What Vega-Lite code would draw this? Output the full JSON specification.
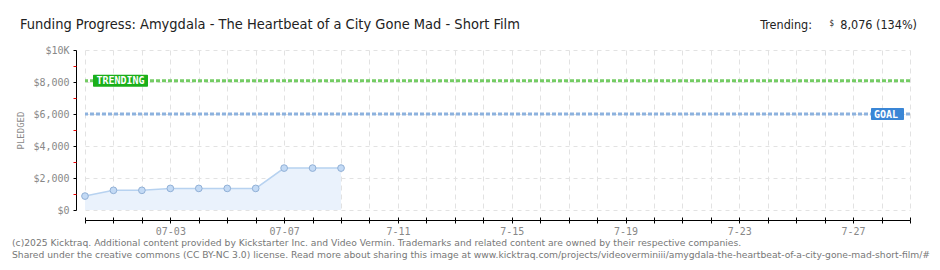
{
  "$schema": "https://vega.github.io/schema/vega-lite/v6.json",
  "width": 825,
  "height": 160,
  "autosize": {"type": "none"},
  "padding": {"left": 85, "top": 50, "right": 30, "bottom": 60},
  "background": "white",
  "data": {"values": [{}]},
  "config": {"view": {"stroke": null}},
  "datasets": {
    "pledges": [
      {"date": "2025-06-30", "pledged": 870},
      {"date": "2025-07-01", "pledged": 1230},
      {"date": "2025-07-02", "pledged": 1230},
      {"date": "2025-07-03", "pledged": 1350},
      {"date": "2025-07-04", "pledged": 1350},
      {"date": "2025-07-05", "pledged": 1350},
      {"date": "2025-07-06", "pledged": 1350},
      {"date": "2025-07-07", "pledged": 2620},
      {"date": "2025-07-08", "pledged": 2620},
      {"date": "2025-07-09", "pledged": 2620}
    ]
  },
  "layer": [
    {
      "data": {"name": "pledges"},
      "mark": {"type": "area", "color": "#eaf2fc", "opacity": 1, "line": {"color": "#b7d2f0", "strokeWidth": 1.5}},
      "encoding": {
        "x": {
          "field": "date", "type": "temporal",
          "scale": {"type": "utc", "domain": [{"year": 2025, "month": 6, "date": 30, "utc": true}, {"year": 2025, "month": 7, "date": 29, "utc": true}]},
          "axis": {
            "orient": "bottom", "offset": 10, "title": null,
            "tickCount": {"interval": "day", "step": 1},
            "labelExpr": "utcdate(datum.value) % 4 == 3 ? (utcdate(datum.value) < 10 ? utcFormat(datum.value, '%m-%d') : utcFormat(datum.value, '%-m-%d')) : ''",
            "labelOverlap": false, "labelFlush": false,
            "labelFont": "DejaVu Sans Mono", "labelFontSize": 10, "labelColor": "#888", "labelPadding": 3,
            "domainColor": "#000", "tickColor": "#000", "tickSize": 3,
            "grid": true, "gridColor": "#e2e2e2", "gridDash": [5, 4]
          }
        },
        "y": {
          "field": "pledged", "type": "quantitative",
          "scale": {"domain": [0, 10000], "nice": false},
          "axis": {
            "orient": "left", "offset": 9,
            "values": [0, 2000, 4000, 6000, 8000, 10000],
            "labelExpr": "datum.value >= 10000 ? '$10K' : '$' + format(datum.value, ',')",
            "title": "PLEDGED", "titleFont": "DejaVu Sans Mono", "titleFontSize": 9, "titleFontWeight": "normal", "titleColor": "#888", "titlePadding": 7,
            "labelFont": "DejaVu Sans Mono", "labelFontSize": 10, "labelColor": "#888", "labelPadding": 4,
            "domainColor": "#000", "tickColor": "#000", "tickSize": 3,
            "grid": true, "gridColor": "#e2e2e2", "gridDash": [4, 4]
          }
        }
      }
    },
    {
      "data": {"name": "pledges"},
      "mark": {"type": "point", "filled": true, "size": 45, "color": "#c3daf5", "stroke": "#91b0d6", "strokeWidth": 1, "opacity": 1},
      "encoding": {
        "x": {"field": "date", "type": "temporal", "axis": {"orient": "bottom", "offset": 10, "title": null, "tickCount": {"interval": "day", "step": 1}, "tickSize": -3, "tickColor": "#000", "labels": false, "domain": false, "grid": false}},
        "y": {"field": "pledged", "type": "quantitative", "axis": null}
      }
    },
    {
      "mark": {"type": "rule", "color": "#8db2de", "strokeWidth": 3, "strokeDash": [4, 2]},
      "encoding": {
        "y": {"datum": 6000, "type": "quantitative", "axis": {"orient": "left", "offset": 9, "values": [1000, 3000, 5000, 7000, 9000], "tickColor": "#e00", "tickSize": 3, "labels": false, "domain": false, "grid": false, "title": null}}
      }
    },
    {
      "mark": {"type": "rule", "color": "#74cc64", "strokeWidth": 3, "strokeDash": [4, 2]},
      "encoding": {"y": {"datum": 8076, "type": "quantitative", "axis": null}}
    },
    {
      "mark": {"type": "rect", "color": "#1aaf1a", "width": 55, "height": 12, "xOffset": 35.5, "cornerRadius": 1},
      "encoding": {
        "x": {"datum": {"year": 2025, "month": 6, "date": 30, "utc": true}, "type": "temporal", "axis": null},
        "y": {"datum": 8076, "type": "quantitative", "axis": null}
      }
    },
    {
      "mark": {"type": "text", "text": "TRENDING", "color": "white", "font": "DejaVu Sans Mono", "fontSize": 10, "fontWeight": "bold", "align": "center", "baseline": "middle", "xOffset": 35.5, "dy": 0.5},
      "encoding": {
        "x": {"datum": {"year": 2025, "month": 6, "date": 30, "utc": true}, "type": "temporal", "axis": null},
        "y": {"datum": 8076, "type": "quantitative", "axis": null}
      }
    },
    {
      "mark": {"type": "rect", "color": "#3a86d6", "width": 33, "height": 12, "xOffset": -22.5, "cornerRadius": 1},
      "encoding": {
        "x": {"datum": {"year": 2025, "month": 7, "date": 29, "utc": true}, "type": "temporal", "axis": null},
        "y": {"datum": 6000, "type": "quantitative", "axis": null}
      }
    },
    {
      "mark": {"type": "text", "text": "GOAL", "color": "white", "font": "DejaVu Sans Mono", "fontSize": 10, "fontWeight": "bold", "align": "left", "baseline": "middle", "xOffset": -36, "dy": 0.5},
      "encoding": {
        "x": {"datum": {"year": 2025, "month": 7, "date": 29, "utc": true}, "type": "temporal", "axis": null},
        "y": {"datum": 6000, "type": "quantitative", "axis": null}
      }
    },
    {
      "mark": {"type": "text", "text": "Funding Progress: Amygdala - The Heartbeat of a City Gone Mad - Short Film", "color": "#222", "font": "DejaVu Sans Condensed", "fontSize": 14.5, "align": "left", "baseline": "alphabetic", "dx": -65, "dy": -21},
      "encoding": {
        "x": {"datum": {"year": 2025, "month": 6, "date": 30, "utc": true}, "type": "temporal", "axis": null},
        "y": {"datum": 10000, "type": "quantitative", "axis": null}
      }
    },
    {
      "mark": {"type": "text", "text": "8,076 (134%)", "color": "#222", "font": "DejaVu Sans Condensed", "fontSize": 12.5, "align": "right", "baseline": "alphabetic", "dx": 7, "dy": -21},
      "encoding": {
        "x": {"datum": {"year": 2025, "month": 7, "date": 29, "utc": true}, "type": "temporal", "axis": null},
        "y": {"datum": 10000, "type": "quantitative", "axis": null}
      }
    },
    {
      "mark": {"type": "text", "text": "$", "color": "#222", "font": "DejaVu Sans Condensed", "fontSize": 8, "align": "right", "baseline": "alphabetic", "dx": -76, "dy": -24},
      "encoding": {
        "x": {"datum": {"year": 2025, "month": 7, "date": 29, "utc": true}, "type": "temporal", "axis": null},
        "y": {"datum": 10000, "type": "quantitative", "axis": null}
      }
    },
    {
      "mark": {"type": "text", "text": "Trending:", "color": "#222", "font": "DejaVu Sans Condensed", "fontSize": 12.5, "align": "right", "baseline": "alphabetic", "dx": -98, "dy": -21},
      "encoding": {
        "x": {"datum": {"year": 2025, "month": 7, "date": 29, "utc": true}, "type": "temporal", "axis": null},
        "y": {"datum": 10000, "type": "quantitative", "axis": null}
      }
    },
    {
      "mark": {
        "type": "text",
        "text": [
          "(c)2025 Kicktraq. Additional content provided by Kickstarter Inc. and Video Vermin. Trademarks and related content are owned by their respective companies.",
          "Shared under the creative commons (CC BY-NC 3.0) license. Read more about sharing this image at www.kicktraq.com/projects/videoverminiii/amygdala-the-heartbeat-of-a-city-gone-mad-short-film/#"
        ],
        "color": "#777", "font": "DejaVu Sans", "fontSize": 9.2, "lineHeight": 12,
        "align": "left", "baseline": "alphabetic", "dx": -73, "dy": 36
      },
      "encoding": {
        "x": {"datum": {"year": 2025, "month": 6, "date": 30, "utc": true}, "type": "temporal", "axis": null},
        "y": {"datum": 0, "type": "quantitative", "axis": null}
      }
    }
  ],
  "resolve": {"axis": {"x": "independent", "y": "independent"}}
}
